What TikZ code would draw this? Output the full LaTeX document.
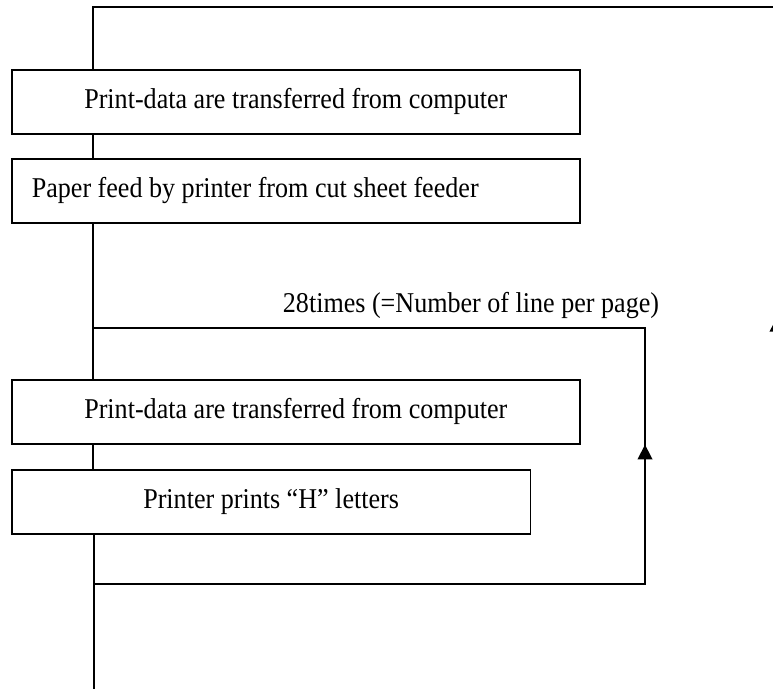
\documentclass[tikz,border=0pt]{standalone}
\usepackage{fontspec}
\setmainfont[FakeStretch=0.91]{Liberation Serif}
\usetikzlibrary{arrows.meta, decorations.markings, positioning}

\tikzset{
  stepbox/.style={draw, line width=1.2pt, minimum height=48pt, inner sep=0pt,
    anchor=north west, font=\fontsize{21.5}{25}\selectfont},
  link/.style={line width=1.2pt},
  uparrow/.style={postaction={decorate}, decoration={markings,
    mark=at position #1 with {\arrow{Triangle[length=11pt,width=11pt]}}}}
}

\begin{document}
\begin{tikzpicture}[x=0.75pt, y=-0.75pt]
        \path[use as bounding box] (0,0) rectangle (773,689);
        \clip (0,0) rectangle (773,689);
        % Boxes
        \node [stepbox, minimum width=426pt] (xfer1) at (11,69) {Print-data are transferred from computer};
        \node [stepbox, text width=396pt, inner xsep=15pt, align=flush left] (feed) at (11,158) {Paper feed by printer from cut sheet feeder};
        \node [stepbox, minimum width=426pt] (xfer2) at (11,379) {Print-data are transferred from computer};
        \node [stepbox, minimum width=389pt] (printH) at (11,469) {Printer prints “H” letters};
        \node [anchor=base, font=\fontsize{21.5}{25}\selectfont] (count) at (471,312) {28times (=Number of line per page)};
        % Outer loop
        \coordinate (otop) at (93,7);
        \coordinate (oright) at (777,7);
        \coordinate (obot) at (777,689);
        \draw [link, uparrow=279pt] (obot) -- (oright) -- (otop) -- (otop |- xfer1.north);
        % Main line
        \draw [link] (otop |- xfer1.south) -- (otop |- feed.north);
        \draw [link] (otop |- feed.south) -- (otop |- xfer2.north);
        \draw [link] (otop |- xfer2.south) -- (otop |- printH.north);
        \coordinate (mainend) at (94,689);
        \draw [link] (printH.south -| mainend) -- (mainend);
        % Inner loop
        \coordinate (itop) at (93,328);
        \coordinate (iright) at (645,328);
        \coordinate (ibot) at (645,584);
        \coordinate (ileft) at (95,584);
        \draw [link, uparrow=517pt] (ileft) -- (ibot) -- (iright) -- (itop);
    \end{tikzpicture}
\end{document}
